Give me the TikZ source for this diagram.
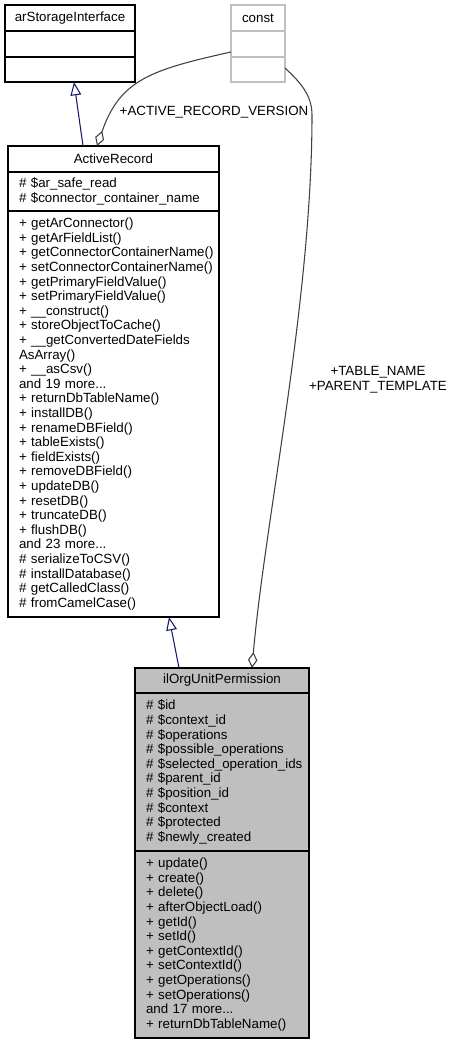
\documentclass[tikz,border=0pt]{standalone}
\definecolor{edgeblue}{RGB}{25, 25, 112}
\definecolor{edgegray}{RGB}{64, 64, 64}
\definecolor{boxgray}{RGB}{191, 191, 191}
\usepackage{fontspec}
\setmainfont{Liberation Sans}
\usetikzlibrary{arrows.meta, positioning, calc}
\hyphenpenalty=10000
\exhyphenpenalty=10000
\tikzset{
    classbox/.style={draw, rectangle, line width=0.9pt, outer sep=0pt, inner sep=0pt, font=\fontsize{10}{10.95}\selectfont},
    classhead/.style={classbox, align=center},
    classpart/.style={classbox, align=left, inner xsep=8.25pt},
    constbox/.style={draw=boxgray},
    currentbox/.style={fill=boxgray},
    inheritarrow/.style={-{Triangle[open, length=10pt, width=8pt]}, line width=0.8pt, draw=edgeblue},
    aggrarrow/.style={-{Diamond[open, length=12pt, width=7pt]}, line width=0.8pt, draw=edgegray},
    edgelabel/.style={font=\fontsize{10}{10.95}\selectfont, align=center, inner sep=0pt},
}

\begin{document}
\begin{tikzpicture}[x=0.75pt, y=-0.75pt]
                \useasboundingbox (0,0) rectangle (455,1044);
                % Interface and constants
                \node[classhead, anchor=north west, minimum width=97.5pt, minimum height=19.5pt] (asi) at (5,5) {arStorageInterface};
                \node[classpart, minimum width=97.5pt, minimum height=19.5pt, below=0pt of asi] (asi-attr) {};
                \node[classpart, minimum width=97.5pt, minimum height=18.75pt, below=0pt of asi-attr] (asi-ops) {};
                
                \node[classhead, constbox, anchor=north west, minimum width=40.5pt, minimum height=19.5pt] (const) at (231,5) {const};
                \node[classpart, constbox, minimum width=40.5pt, minimum height=19.5pt, below=0pt of const] (const-attr) {};
                \node[classpart, constbox, minimum width=40.5pt, minimum height=18.75pt, below=0pt of const-attr] (const-ops) {};
                
                % Base class
                \node[classhead, anchor=north west, minimum width=158.25pt, minimum height=19.5pt] (ar) at (8,146) {ActiveRecord};
                \node[classpart, text width=141.75pt, minimum height=29.25pt, below=0pt of ar] (ar-attr)
                      {\#~\$ar\_safe\_read\\\#~\$connector\_container\_name};
                \node[classpart, text width=141.75pt, minimum height=304.5pt, below=0pt of ar-attr] (ar-ops)
                      {+~getArConnector()\\+~getArFieldList()\\+~getConnectorContainerName()\\+~setConnectorContainerName()\\
                       +~getPrimaryFieldValue()\\+~setPrimaryFieldValue()\\+~\_\_construct()\\+~storeObjectToCache()\\
                       +~\_\_getConvertedDateFields\\AsArray()\\+~\_\_asCsv()\\and~19~more...\\
                       +~returnDbTableName()\\+~installDB()\\+~renameDBField()\\+~tableExists()\\+~fieldExists()\\
                       +~removeDBField()\\+~updateDB()\\+~resetDB()\\+~truncateDB()\\+~flushDB()\\and~23~more...\\
                       \#~serializeToCSV()\\\#~installDatabase()\\\#~getCalledClass()\\\#~fromCamelCase()};
                
                % Documented class
                \node[classhead, currentbox, anchor=north west, minimum width=130.5pt, minimum height=18.75pt] (perm) at (135,668) {ilOrgUnitPermission};
                \node[classpart, currentbox, text width=114pt, minimum height=118.5pt, below=0pt of perm] (perm-attr)
                      {\#~\$id\\\#~\$context\_id\\\#~\$operations\\\#~\$possible\_operations\\\#~\$selected\_operation\_ids\\
                       \#~\$parent\_id\\\#~\$position\_id\\\#~\$context\\\#~\$protected\\\#~\$newly\_created};
                \node[classpart, currentbox, text width=114pt, minimum height=140.25pt, below=0pt of perm-attr] (perm-ops)
                      {+~update()\\+~create()\\+~delete()\\+~afterObjectLoad()\\+~getId()\\+~setId()\\+~getContextId()\\
                       +~setContextId()\\+~getOperations()\\+~setOperations()\\and~17~more...\\+~returnDbTableName()};
                
                % Edge labels
                \node[edgelabel] (version-label) at (214,112) {+ACTIVE\_RECORD\_VERSION};
                \node[edgelabel] (table-label) at (378,380) {+TABLE\_NAME\\+PARENT\_TEMPLATE};
                
                \draw[inheritarrow] ($(ar.north west)+(75,0)$) -- ($(asi-ops.south west)+(69,0)$);
                \draw[inheritarrow] ($(perm.north west)+(44,0)$) -- ($(ar-ops.south west)+(161,0)$);
                \draw[aggrarrow] ($(const-attr.south west)+(0,-5)$) .. controls (150,70) and (120,80) .. ($(ar.north west)+(89,0)$);
                \draw[aggrarrow] ($(const-ops.north east)+(0,11)$) .. controls (300,82) and (312,95) .. (312,115)
                      .. controls (312,300) and (265,520) .. ($(perm.north west)+(117,0)$);
            \end{tikzpicture}
\end{document}
